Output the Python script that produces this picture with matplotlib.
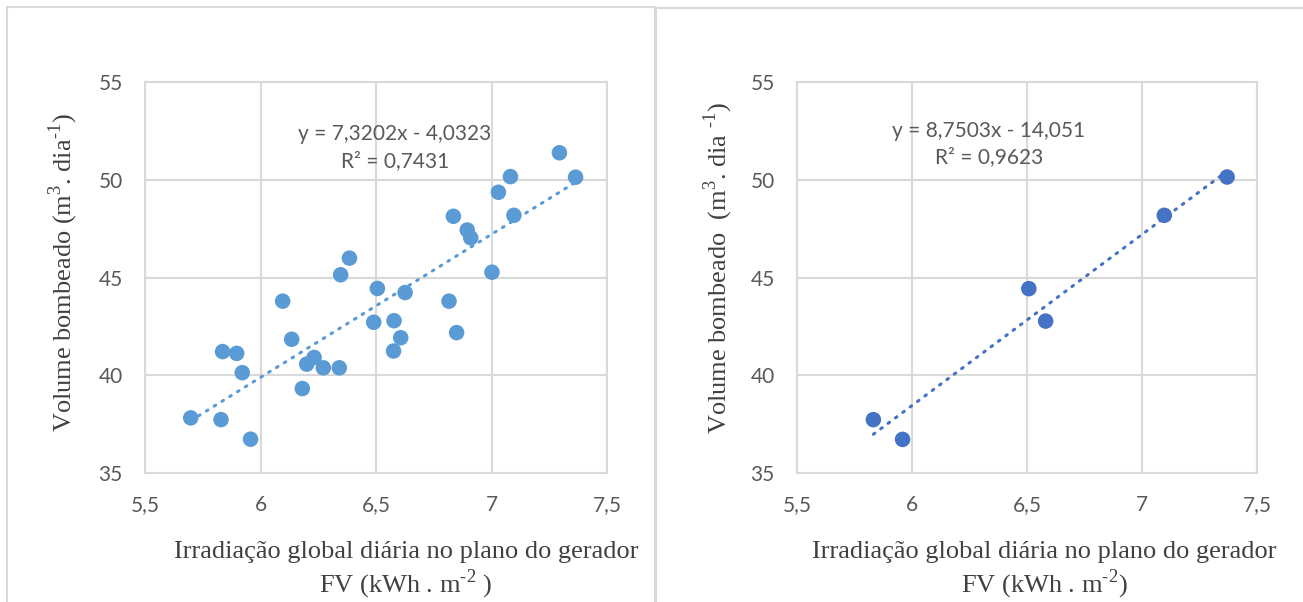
import matplotlib
matplotlib.use("Agg")
import matplotlib.pyplot as plt
from matplotlib.patches import Rectangle
import numpy as np

plt.rcParams['mathtext.fontset'] = 'custom'
plt.rcParams['mathtext.rm'] = 'Liberation Serif'

# Left chart data (all days)
x_all = [5.698, 5.829, 5.957, 5.836, 5.897, 5.921, 6.096, 6.135, 6.181, 6.200,
         6.232, 6.272, 6.341, 6.347, 6.385, 6.506, 6.490, 6.578, 6.607, 6.576,
         6.626, 6.816, 6.849, 6.835, 6.895, 6.910, 7.002, 7.030, 7.082, 7.097,
         7.294, 7.364]
y_all = [37.82, 37.73, 36.73, 41.21, 41.12, 40.13, 43.79, 41.84, 39.32, 40.57,
         40.91, 40.38, 40.38, 45.14, 45.99, 44.44, 42.71, 42.79, 41.92, 41.24,
         44.23, 43.79, 42.18, 48.13, 47.43, 47.03, 45.27, 49.36, 50.16, 48.18,
         51.38, 50.13]
fit_all = (7.3202, -4.0323)
eq_all = "y = 7,3202x - 4,0323\nR² = 0,7431"

# Right chart data (selected days)
x_sel = [5.832, 5.959, 6.508, 6.581, 7.097, 7.370]
y_sel = [37.73, 36.72, 44.43, 42.77, 48.18, 50.14]
fit_sel = (8.7503, -14.051)
eq_sel = "y = 8,7503x - 14,051\nR² = 0,9623"

x_ticks = [5.5, 6, 6.5, 7, 7.5]
x_ticklabels = ["5,5", "6", "6,5", "7", "7,5"]
y_ticks = [35, 40, 45, 50, 55]

W, H = 1303, 602
fig = plt.figure(figsize=(W / 100, H / 100), dpi=100)

# panel borders
fig.patches.append(Rectangle((7 / W, -0.1), (655 - 7) / W, 1.1 - 7 / H,
                             transform=fig.transFigure, fill=False,
                             edgecolor='#D9D9D9', lw=1.5))
fig.patches.append(Rectangle((656 / W, -0.1), 0.6, 1.1 - 8 / H,
                             transform=fig.transFigure, fill=False,
                             edgecolor='#D9D9D9', lw=1.5))

label_font = dict(family='Liberation Serif', size=19, color='#404040')


def setup(ax, xs, ys, fit, eq, color, eq_pos):
    ax.set_xlim(5.5, 7.5)
    ax.set_ylim(35, 55)
    ax.set_xticks(x_ticks)
    ax.set_xticklabels(x_ticklabels)
    ax.set_yticks(y_ticks)
    for lab in ax.get_xticklabels() + ax.get_yticklabels():
        lab.set_fontfamily('Lato')
        lab.set_fontsize(15)
        lab.set_color('#595959')
    ax.tick_params(length=0, pad=16)
    ax.grid(True, color='#D9D9D9', lw=1.5)
    ax.set_axisbelow(True)
    for s in ax.spines.values():
        s.set_color('#D9D9D9')
        s.set_linewidth(1.5)
    xs_arr = np.array(xs)
    xl = np.array([xs_arr.min(), xs_arr.max()])
    ax.plot(xl, fit[0] * xl + fit[1], color=color, lw=2.2,
            linestyle=(0, (0.6, 2.4)), dash_capstyle='round', zorder=2)
    ax.scatter(xs, ys, s=125, color=color, edgecolors='none', zorder=3)
    ax.text(eq_pos[0], eq_pos[1], eq, transform=ax.transAxes, ha='center',
            va='center', multialignment='center', fontfamily='Lato',
            fontsize=15, color='#595959', linespacing=1.4)


axL = fig.add_axes([145 / W, 1 - 473 / H, 462 / W, 391 / H])
setup(axL, x_all, y_all, fit_all, eq_all, '#5B9BD5', (0.541, 0.832))

axR = fig.add_axes([797 / W, 1 - 473 / H, 460 / W, 391 / H])
setup(axR, x_sel, y_sel, fit_sel, eq_sel, '#4472C4', (0.417, 0.841))

# axis labels
fig.text(63 / W, 1 - 273 / H, r'Volume bombeado (m$^{3}$. dia$^{\text{-1}}$)',
         rotation=90, ha='center', va='center', **label_font)
fig.text(718 / W, 1 - 268 / H, r'Volume bombeado  (m$^{3}$. dia $^{\text{-1}}$)',
         rotation=90, ha='center', va='center', **label_font)
fig.text(406 / W, 1 - 571 / H,
         'Irradiação global diária no plano do gerador\n' + r'FV (kWh . m$^{\text{-2}}$ )',
         ha='center', va='center', multialignment='center', linespacing=1.2,
         **label_font)
fig.text(1044 / W, 1 - 571 / H,
         'Irradiação global diária no plano do gerador\n' + r'FV (kWh . m$^{\text{-2}}$)',
         ha='center', va='center', multialignment='center', linespacing=1.2,
         **label_font)

fig.savefig('out.png', dpi=100, facecolor='white')
